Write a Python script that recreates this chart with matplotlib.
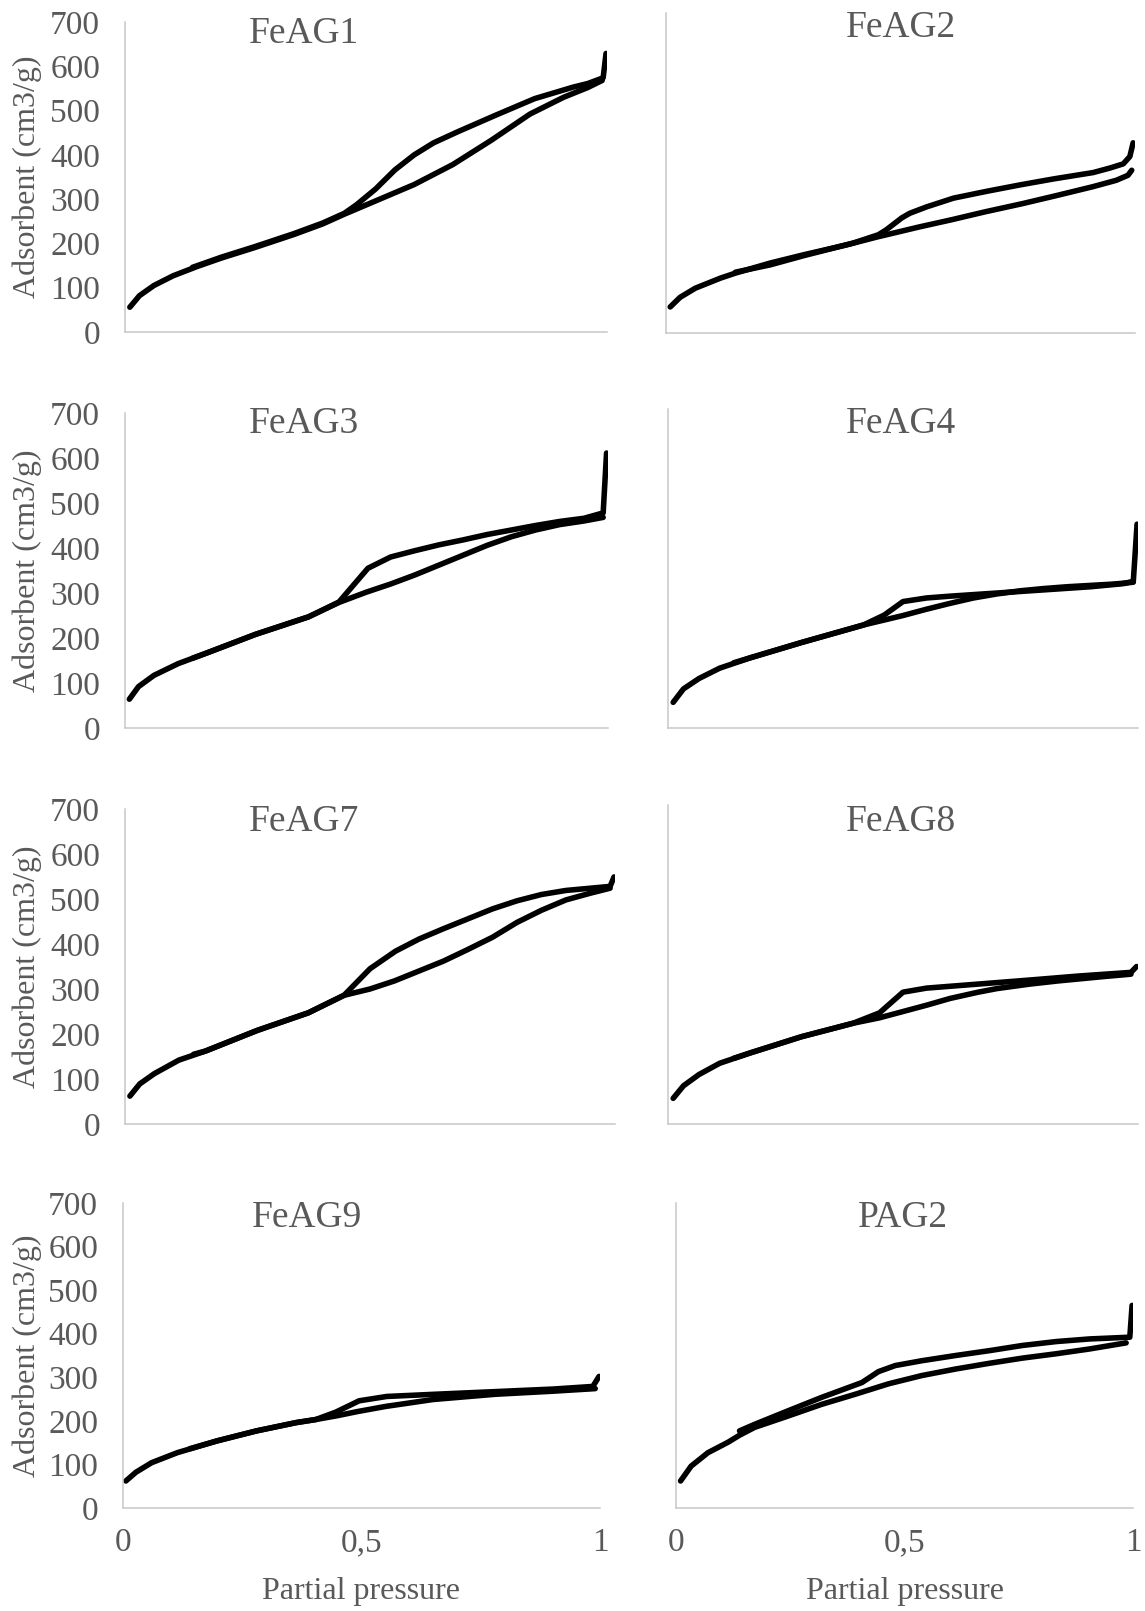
import matplotlib
matplotlib.use("Agg")
from matplotlib import pyplot as plt

# N2 isotherms: adsorption (lower) and desorption (upper, starts at p/p0 ~ 1)
feag1_ads_p = [0.01, 0.03, 0.06, 0.10, 0.15, 0.20, 0.27, 0.35, 0.41, 0.455, 0.52, 0.60, 0.68, 0.76, 0.84, 0.91, 0.96, 0.99]
feag1_ads_v = [56, 82, 105, 127, 148, 167, 191, 220, 244, 266, 296, 333, 378, 433, 492, 530, 552, 568]
feag1_des_p = [0.998, 0.992, 0.96, 0.93, 0.85, 0.77, 0.69, 0.64, 0.60, 0.56, 0.52, 0.48, 0.455, 0.41, 0.35, 0.27, 0.20, 0.14]
feag1_des_v = [629, 574, 561, 553, 527, 490, 452, 427, 400, 366, 323, 287, 268, 246, 222, 193, 169, 146]

feag2_ads_p = [0.009, 0.03, 0.0625, 0.116, 0.148, 0.222, 0.293, 0.386, 0.45, 0.54, 0.61, 0.68, 0.76, 0.83, 0.91, 0.96, 0.985, 0.993]
feag2_ads_v = [57, 78, 98, 120, 131, 153, 171, 193, 210, 232, 248, 265, 283, 300, 320, 334, 345, 356]
feag2_des_p = [0.996, 0.989, 0.975, 0.947, 0.911, 0.826, 0.755, 0.684, 0.613, 0.556, 0.52, 0.503, 0.47, 0.453, 0.40, 0.293, 0.222, 0.148]
feag2_des_v = [416, 386, 370, 361, 351, 337, 324, 310, 295, 276, 262, 252, 226, 215, 197, 169, 149, 133]

feag3_ads_p = [0.009, 0.028, 0.06, 0.11, 0.17, 0.27, 0.38, 0.443, 0.5, 0.55, 0.6, 0.65, 0.7, 0.75, 0.8, 0.85, 0.9, 0.95, 0.99]
feag3_ads_v = [64, 92, 117, 143, 167, 208, 247, 279, 302, 320, 340, 362, 384, 406, 425, 440, 452, 460, 468]
feag3_des_p = [0.997, 0.99, 0.95, 0.9, 0.85, 0.8, 0.75, 0.7, 0.65, 0.6, 0.55, 0.503, 0.443, 0.38, 0.27, 0.17, 0.14]
feag3_des_v = [611, 478, 466, 459, 450, 440, 430, 418, 407, 394, 380, 355, 280, 247, 208, 167, 155]

feag4_ads_p = [0.011, 0.033, 0.066, 0.11, 0.175, 0.284, 0.372, 0.416, 0.5, 0.55, 0.6, 0.65, 0.7, 0.75, 0.8, 0.85, 0.9, 0.95, 0.99]
feag4_ads_v = [57, 87, 110, 133, 156, 190, 216, 229, 250, 264, 277, 289, 298, 305, 310, 314, 317, 320, 324]
feag4_des_p = [0.998, 0.99, 0.97, 0.9, 0.8, 0.7, 0.6, 0.55, 0.5, 0.46, 0.416, 0.372, 0.284, 0.175, 0.14]
feag4_des_v = [453, 326, 321, 314, 307, 300, 293, 289, 281, 251, 229, 216, 190, 156, 145]

feag7_ads_p = [0.01, 0.03, 0.06, 0.11, 0.164, 0.27, 0.374, 0.447, 0.5, 0.55, 0.6, 0.65, 0.7, 0.75, 0.8, 0.85, 0.9, 0.95, 0.99]
feag7_ads_v = [62, 89, 112, 142, 162, 208, 247, 286, 300, 318, 340, 362, 388, 415, 448, 475, 498, 513, 524]
feag7_des_p = [0.998, 0.99, 0.95, 0.9, 0.85, 0.8, 0.75, 0.7, 0.65, 0.6, 0.552, 0.5, 0.447, 0.374, 0.27, 0.164, 0.14]
feag7_des_v = [549, 528, 524, 519, 510, 496, 478, 456, 434, 411, 384, 345, 286, 247, 208, 162, 155]

feag8_ads_p = [0.011, 0.033, 0.066, 0.11, 0.175, 0.284, 0.394, 0.45, 0.5, 0.55, 0.6, 0.66, 0.7, 0.77, 0.83, 0.88, 0.93, 0.985]
feag8_ads_v = [57, 85, 110, 135, 158, 194, 224, 236, 250, 264, 279, 293, 301, 311, 318, 323, 328, 333]
feag8_des_p = [0.997, 0.985, 0.93, 0.875, 0.77, 0.66, 0.55, 0.5, 0.45, 0.394, 0.284, 0.175, 0.14]
feag8_des_v = [350, 337, 333, 329, 320, 311, 302, 293, 247, 224, 194, 158, 146]

feag9_ads_p = [0.006, 0.027, 0.06, 0.114, 0.197, 0.28, 0.363, 0.404, 0.45, 0.49, 0.55, 0.65, 0.78, 0.9, 0.99]
feag9_ads_v = [62, 82, 104, 127, 154, 177, 196, 203, 212, 221, 233, 249, 261, 268, 274]
feag9_des_p = [0.998, 0.985, 0.902, 0.778, 0.653, 0.553, 0.495, 0.446, 0.404, 0.363, 0.28, 0.197, 0.14]
feag9_des_v = [302, 279, 273, 267, 261, 256, 246, 220, 203, 196, 177, 154, 136]

pag2_ads_p = [0.01, 0.033, 0.07, 0.114, 0.139, 0.172, 0.245, 0.319, 0.392, 0.465, 0.538, 0.612, 0.685, 0.758, 0.832, 0.905, 0.985]
pag2_ads_v = [62, 96, 127, 151, 167, 185, 211, 238, 261, 285, 304, 319, 332, 344, 354, 365, 379]
pag2_des_p = [0.998, 0.993, 0.905, 0.832, 0.758, 0.685, 0.612, 0.538, 0.48, 0.443, 0.407, 0.319, 0.245, 0.172, 0.139]
pag2_des_v = [465, 392, 388, 382, 373, 361, 350, 338, 327, 313, 288, 254, 223, 192, 177]

samples = ["FeAG1", "FeAG2", "FeAG3", "FeAG4", "FeAG7", "FeAG8", "FeAG9", "PAG2"]
series = [
    (feag1_ads_p, feag1_ads_v, feag1_des_p, feag1_des_v),
    (feag2_ads_p, feag2_ads_v, feag2_des_p, feag2_des_v),
    (feag3_ads_p, feag3_ads_v, feag3_des_p, feag3_des_v),
    (feag4_ads_p, feag4_ads_v, feag4_des_p, feag4_des_v),
    (feag7_ads_p, feag7_ads_v, feag7_des_p, feag7_des_v),
    (feag8_ads_p, feag8_ads_v, feag8_des_p, feag8_des_v),
    (feag9_ads_p, feag9_ads_v, feag9_des_p, feag9_des_v),
    (pag2_ads_p, pag2_ads_v, pag2_des_p, pag2_des_v),
]
y_ticks = [0, 100, 200, 300, 400, 500, 600, 700]
x_ticks = [0, 0.5, 1]
x_tick_labels = ["0", "0,5", "1"]

W, H = 1145, 1611
# plot boxes in pixels: (left, top, right, bottom), ymax
boxes = [
    (125, 22, 607, 332, 700), (666, 13, 1135, 333, 700),
    (125, 413, 608, 728, 700), (668, 409, 1138, 728, 709),
    (125, 809, 615, 1124, 700), (668, 805, 1138, 1124, 709),
    (123, 1203, 600, 1508, 700), (676, 1203, 1133, 1508, 700),
]
title_pos = [(304, 34), (901, 28), (304, 424), (901, 424),
             (304, 822), (901, 822), (307, 1218), (903, 1218)]

grey = "#595959"
serif = ["Liberation Serif", "DejaVu Serif"]
plt.rcParams["font.family"] = serif

fig = plt.figure(figsize=(W / 100, H / 100), dpi=100)

for i, name in enumerate(samples):
    x0, y0, x1, y1, ymax = boxes[i]
    ax = fig.add_axes([x0 / W, 1 - y1 / H, (x1 - x0) / W, (y1 - y0) / H])
    ads_p, ads_v, des_p, des_v = series[i]
    ax.plot(ads_p, ads_v, color="black", lw=4, solid_capstyle="round", solid_joinstyle="round")
    ax.plot(des_p, des_v, color="black", lw=4, solid_capstyle="round", solid_joinstyle="round")
    ax.set_xlim(0, 1)
    ax.set_ylim(0, ymax)
    for s in ["top", "right"]:
        ax.spines[s].set_visible(False)
    for s in ["left", "bottom"]:
        ax.spines[s].set_color("#c8c8c8")
        ax.spines[s].set_linewidth(1.1)
    ax.tick_params(length=0, colors=grey, labelsize=24)
    ax.tick_params(axis="y", pad=18)
    ax.tick_params(axis="x", pad=14)
    col = i % 2
    row = i // 2
    if col == 0:
        ax.set_yticks(y_ticks)
    else:
        ax.set_yticks([])
    if row == 3:
        ax.set_xticks(x_ticks)
        ax.set_xticklabels(x_tick_labels)
        fig.text(((x0 + x1) / 2) / W, 1 - 1591 / H, "Partial pressure",
                 ha="center", va="center", fontsize=23, color=grey)
    else:
        ax.set_xticks([])
    if col == 0:
        fig.text(27 / W, 1 - ((y0 + y1) / 2) / H, "Adsorbent (cm3/g)", rotation=90,
                 ha="center", va="center", fontsize=23, color=grey)
    tx, ty = title_pos[i]
    fig.text(tx / W, 1 - ty / H, name, ha="center", va="center", fontsize=27, color=grey)

fig.savefig("out.png", dpi=100)
